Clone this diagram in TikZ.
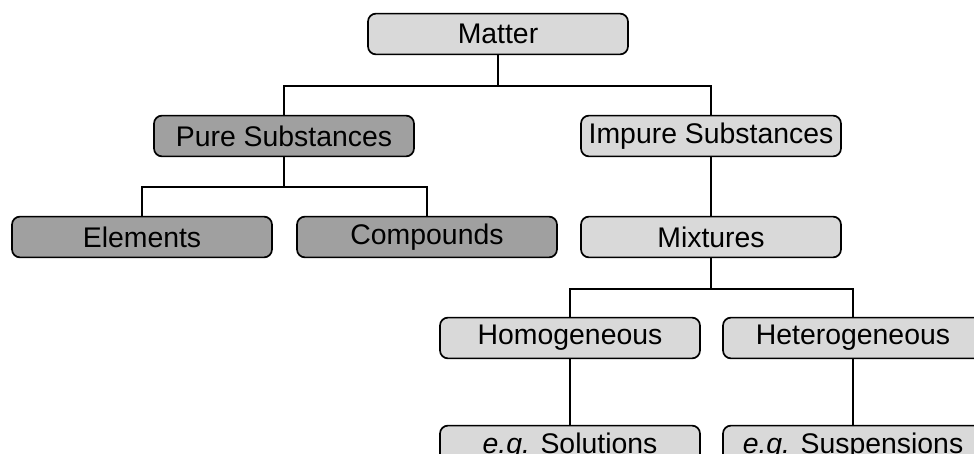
\documentclass[tikz,border=0pt]{standalone}
\usepackage{fontspec}
\setmainfont{Liberation Sans}
\usepackage{tikz}
\usetikzlibrary{arrows,shapes,positioning}
\definecolor{darkfill}{HTML}{A0A0A0}
\definecolor{lightfill}{HTML}{D9D9D9}
\tikzstyle{darkbox} = [rectangle, draw, line width=1.2pt, fill=darkfill,
    minimum width=6.5cm, minimum height=1.02cm, rounded corners=0.2cm]
\tikzstyle{lightbox} = [rectangle, draw, line width=1.2pt, fill=lightfill,
    minimum width=6.5cm, minimum height=1.02cm, rounded corners=0.2cm]
\tikzstyle{line} = [draw, line width=1.2pt]

\begin{document}
\begin{tikzpicture}[node distance = 2.525cm]
\tikzstyle{every node}=[font=\fontsize{20.2}{24}\selectfont]
    \useasboundingbox (0,0) rectangle (24.35,-11.35);
    \clip (0,0) rectangle (24.35,-11.35);
    % Place nodes
    \node [lightbox] (matter) at (12.45,-0.85) {Matter};
    \node [darkbox, below of=matter, xshift=-5.35cm, node distance=2.55cm] (pure) {Pure Substances};
    \node [lightbox, below of=matter, xshift=5.325cm, node distance=2.55cm] (impure) {Impure Substances};
    \node [darkbox, below of=pure, xshift=-3.55cm] (elem) {Elements};
    \node [darkbox, right of=elem, node distance=7.125cm] (comp) {Compounds};
    \node [lightbox, below of=impure] (mix) {Mixtures};
    \node [lightbox, below of=mix, xshift=-3.525cm] (homo) {Homogeneous};
    \node [lightbox, right of=homo, node distance=7.075cm] (hetero) {Heterogeneous};
    \node [lightbox, below of=homo, node distance=2.7cm] (sol) {\textit{e.g.} Solutions};
    \node [lightbox, below of=hetero, node distance=2.7cm] (susp) {\textit{e.g.} Suspensions};

    % Draw edges
    \coordinate [below of=matter, node distance=1.3cm] (fork1);
    \coordinate [below of=pure, node distance=1.28cm] (fork2);
    \coordinate [below of=mix, node distance=1.3cm] (fork3);
    \path [line] (matter) -- (fork1);
    \path [line] (fork1) -| (pure);
    \path [line] (fork1) -| (impure);
    \path [line] (pure) -- (fork2);
    \path [line] (fork2) -| (elem);
    \path [line] (fork2) -| (comp);
    \path [line] (impure) -- (mix);
    \path [line] (mix) -- (fork3);
    \path [line] (fork3) -| (homo);
    \path [line] (fork3) -| (hetero);
    \path [line] (homo) -- (sol);
    \path [line] (hetero) -- (susp);
\end{tikzpicture}
\end{document}
